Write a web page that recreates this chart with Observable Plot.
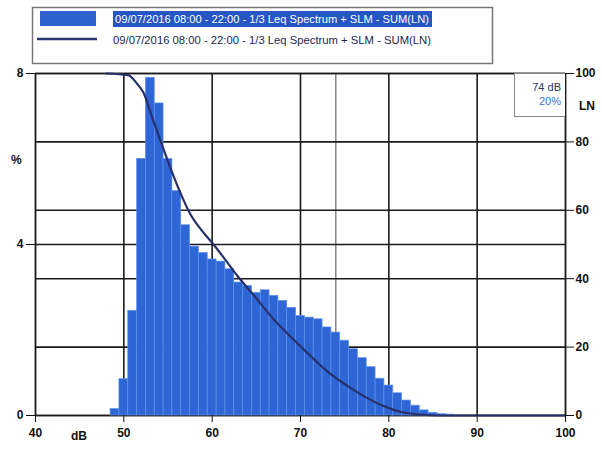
<!DOCTYPE html>
<html><head><meta charset="utf-8">
<script src="https://cdn.jsdelivr.net/npm/d3@7"></script>
<script src="https://cdn.jsdelivr.net/npm/@observablehq/plot@0.6"></script>
<style>
body{margin:0;background:#fff;font-family:"Liberation Sans",Arial,sans-serif;}
#wrap{position:relative;width:602px;height:451px;overflow:hidden;background:#fff;}
#chart{position:absolute;left:0;top:60px;}
#legend{position:absolute;left:0;top:0;z-index:2;}
.lbl{position:absolute;font-weight:bold;font-size:12px;color:#111;line-height:12px;z-index:3;}
#readout{position:absolute;left:514px;top:73px;width:50px;height:42px;border:1px solid #888;border-right:none;background:#fff;z-index:3;font-size:11px;line-height:14px;text-align:right;}
</style></head><body>
<div id="wrap">
<div id="chart"></div>
<svg id="legend" width="602" height="66">
  <rect x="32.5" y="7.5" width="460" height="56" fill="none" stroke="#777" stroke-width="1.5"/>
  <rect x="40" y="11" width="56" height="15" fill="#2d62cf"/>
  <rect x="113" y="11" width="319" height="16" fill="#2556c4"/>
  <text id="lg1" x="115" y="23" fill="#fff" font-size="11.5" textLength="314" lengthAdjust="spacingAndGlyphs"></text>
  <line x1="37" x2="97" y1="39" y2="39" stroke="#2a3470" stroke-width="2.5"/>
  <text id="lg2" x="113" y="43.5" fill="#1e2550" font-size="11.5" textLength="318" lengthAdjust="spacingAndGlyphs"></text>
</svg>
<div class="lbl" style="left:11px;top:154px;">%</div>
<div class="lbl" style="left:579px;top:100px;">LN</div>
<div class="lbl" style="left:71px;top:430px;">dB</div>
<div id="readout"><div style="color:#2a3560;margin-top:6px;padding-right:4px;">74 dB</div><div style="color:#3f72d2;padding-right:4px;">20%</div></div>
</div>
<script>
// Histogram: level (dB) bins and percent of time
const levels = [49,50,51,52,53,54,55,56,57,58,59,60,61,62,63,64,65,66,67,68,69,70,71,72,73,74,75,76,77,78,79,80,81,82,83,84,85,86,87];
const percent = [0.15,0.85,2.45,6.0,7.9,7.3,6.0,5.25,4.45,3.95,3.8,3.65,3.6,3.42,3.11,3.03,2.87,2.93,2.8,2.68,2.52,2.33,2.29,2.25,2.06,1.94,1.75,1.55,1.34,1.13,0.86,0.70,0.52,0.35,0.23,0.12,0.06,0.03,0.02];
// LN curve (right axis, percent exceeded)
const curveLevels = [48,50.5,51.5,52.2,53.3,54.2,55.4,56.5,57.5,58.7,60,61.5,62.8,64.6,67,69.5,71.1,73,74,76,79.2,81.3,83.5,86,100];
const curveLN = [100,99.5,97,94.5,86.5,80,71.5,64.5,59,54.5,50.5,45.5,41,35.5,28,21.5,17.5,13,11,7.5,3,1.1,0.3,0,0];
// Axes
const xTicks = [40,50,60,70,80,90,100];
const xGrid = [50,60,70,80,90];
const pctTicks = [0,4,8];
const lnTicks = [0,20,40,60,80,100];
const cursorDb = 74;
const legendText = "09/07/2016 08:00 - 22:00 - 1/3 Leq Spectrum + SLM - SUM(LN)";

document.getElementById("lg1").textContent = legendText;
document.getElementById("lg2").textContent = legendText;

const pctMax = 8, lnMax = 100;
const k = pctMax / lnMax;
const bars = levels.map((db, i) => ({db, pct: percent[i]}));
const curve = curveLevels.map((db, i) => ({db, ln: curveLN[i]}));
const binW = 1;

const chart = Plot.plot({
  width: 602, height: 391,
  marginTop: 13, marginBottom: 36, marginLeft: 35, marginRight: 37,
  x: {domain: [40, 100]},
  y: {domain: [0, pctMax]},
  style: {background: "transparent", fontFamily: "Liberation Sans, Arial, sans-serif", fontSize: "12px", fontWeight: "bold", color: "#111"},
  marks: [
    Plot.ruleX(xGrid, {stroke: "#1b1b1b", strokeWidth: 1.6}),
    Plot.ruleX([40, 100], {stroke: "#1b1b1b", strokeWidth: 1.8}),
    Plot.ruleX([cursorDb], {stroke: "#666", strokeWidth: 1.2}),
    Plot.ruleY(pctTicks, {stroke: "#1b1b1b", strokeWidth: 1.6}),
    Plot.ruleY(lnTicks.map(v => v * k), {stroke: "#1b1b1b", strokeWidth: 1.6}),
    Plot.rectY(bars, {x1: d => d.db - binW / 2, x2: d => d.db + binW / 2, y: "pct", fill: "#2e66d6", stroke: "#5f92ea", strokeWidth: 0.7}),
    Plot.line(curve, {x: "db", y: d => d.ln * k, stroke: "#28306a", strokeWidth: 2.2, curve: "monotone-x"}),
    Plot.axisX(xTicks, {tickSize: 7, tickPadding: 6, label: null, tickFormat: d => d, stroke: "#111"}),
    Plot.axisY(pctTicks, {anchor: "left", tickSize: 9, tickPadding: 3, label: null, tickFormat: d => d, stroke: "#111"}),
    Plot.axisY(lnTicks.map(v => v * k), {anchor: "right", tickSize: 8, tickPadding: 2, label: null, tickFormat: d => Math.round(d / k), stroke: "#111"})
  ]
});
document.getElementById("chart").appendChild(chart);
</script>
</body></html>
